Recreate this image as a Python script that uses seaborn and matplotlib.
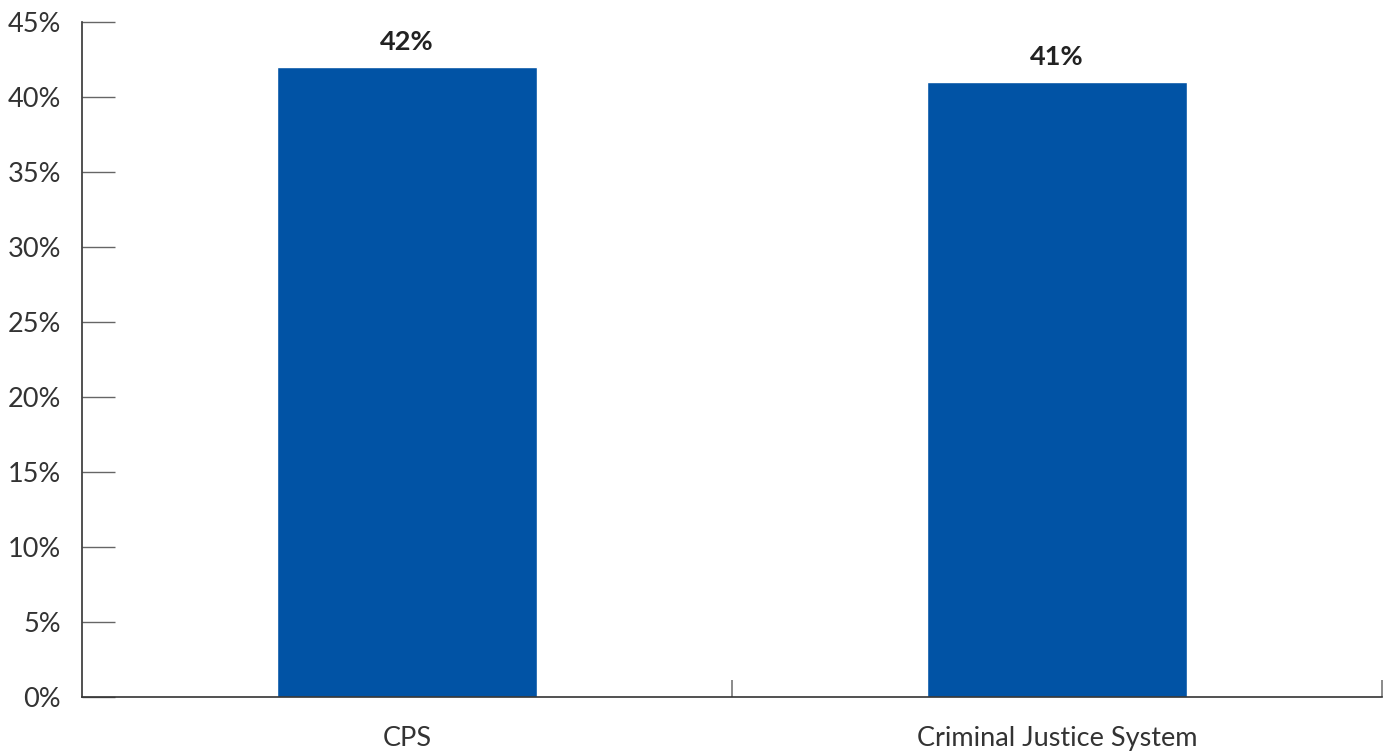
import matplotlib
matplotlib.use("Agg")
import matplotlib.pyplot as plt
import seaborn as sns
import pandas as pd

categories = ["CPS", "Criminal Justice System"]
values = [42, 41]
yticks = [0, 5, 10, 15, 20, 25, 30, 35, 40, 45]
ytick_labels = [f"{v}%" for v in yticks]

sns.set_theme(style="white")
plt.rcParams["font.family"] = ["Lato", "DejaVu Sans"]

df = pd.DataFrame({"category": categories, "value": values})

fig = plt.figure(figsize=(13.94, 7.51), dpi=100)
ax = fig.add_axes([82/1394, 54/751, 1300/1394, 675/751])

sns.barplot(data=df, x="category", y="value", color="#0153A5", saturation=1,
            width=0.4, ax=ax)

ax.set_xlim(-0.5, 1.5)
ax.set_ylim(0, 45)
ax.set_yticks(yticks)
ax.set_yticklabels(ytick_labels, fontsize=19.5, color="#333333")
ax.tick_params(axis="y", left=True, direction="in", length=24, width=1,
               color="#666666", pad=15)
ax.set_xticks([0, 1])
ax.set_xticks([0.5, 1.5], minor=True)
ax.tick_params(axis="x", which="major", bottom=False, length=0, labelsize=19.5,
               labelcolor="#333333", pad=21)
ax.tick_params(axis="x", which="minor", bottom=True, direction="in", length=12,
               width=1.2, color="#777777")
ax.set_xlabel("")
ax.set_ylabel("")

for s in ["top", "right"]:
    ax.spines[s].set_visible(False)
for s in ["left", "bottom"]:
    ax.spines[s].set_color("#333333")
    ax.spines[s].set_linewidth(1.2)

for i, v in enumerate(values):
    ax.text(i, v + 0.85, f"{v}%", ha="center", va="bottom", fontsize=19.5,
            fontweight="bold", color="#222222")

fig.savefig("out.png", dpi=100)
